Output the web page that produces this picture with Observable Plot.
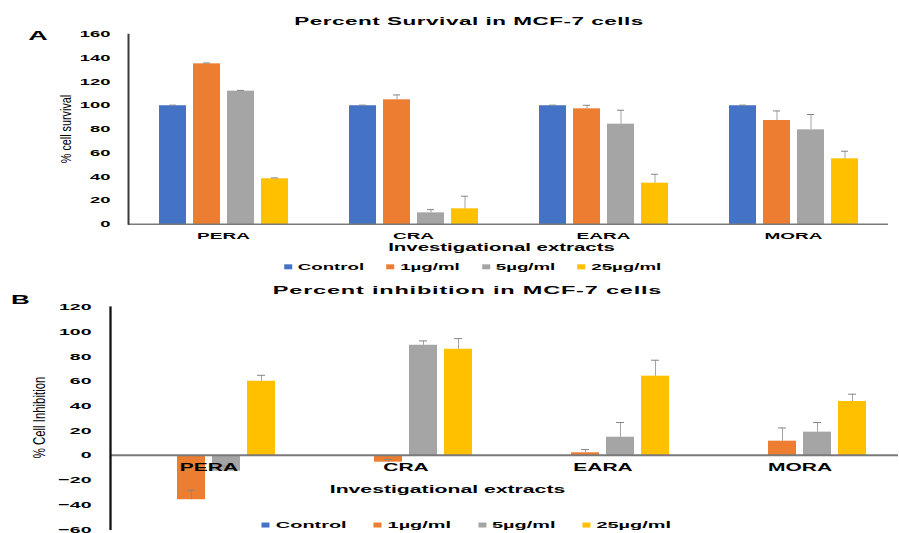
<!DOCTYPE html>
<html>
<head>
<meta charset="utf-8">
<script src="https://cdn.jsdelivr.net/npm/d3@7"></script>
<script src="https://cdn.jsdelivr.net/npm/@observablehq/plot@0.6"></script>
<style>
html,body{margin:0;padding:0;overflow:hidden;background:#fff;width:899px;height:533px;}
#wrap{position:absolute;left:0;top:0;width:899px;height:1066px;transform:scaleY(0.5);transform-origin:0 0;font-family:"Liberation Sans",Arial,sans-serif;color:#000;overflow:hidden;}
.t{position:absolute;white-space:nowrap;line-height:1;transform:translate(-50%,-50%);}
.b{font-weight:bold;}
.legend{position:absolute;display:flex;align-items:center;white-space:nowrap;line-height:1;font-weight:bold;transform:translate(-50%,-50%);}
.legend .item{display:flex;align-items:center;}
.legend .sw{display:inline-block;width:8px;height:10px;margin-right:6px;}
</style>
</head>
<body>
<div id="wrap"></div>
<script>
// ---- data ----
const categories = ["PERA", "CRA", "EARA", "MORA"];
const series = ["Control", "1µg/ml", "5µg/ml", "25µg/ml"];
const colors = ["#4472C4", "#ED7D31", "#A5A5A5", "#FFC000"];

// Panel A: percent survival
const survivalControl = [100, 100, 100, 100];
const survival1 = [135.3, 105, 97.4, 87.6];
const survival5 = [112.3, 9.8, 84.5, 79.7];
const survival25 = [38.5, 13.2, 34.8, 55.3];
const survivalErrControl = [0.3, 0.3, 0.3, 0.3];
const survivalErr1 = [0.5, 3.9, 2.8, 7.8];
const survivalErr5 = [0.4, 2.5, 11.5, 12.7];
const survivalErr25 = [0.5, 10.4, 7.3, 6.2];
const survivalTicks = [0, 20, 40, 60, 80, 100, 120, 140, 160];

// Panel B: percent inhibition
const inhibitionControl = [0, 0, 0, 0];
const inhibition1 = [-35.8, -5.4, 2.2, 11.6];
const inhibition5 = [-12.7, 89.2, 14.8, 18.9];
const inhibition25 = [60.1, 86, 64.2, 43.7];
const inhibitionErrControl = [0, 0, 0, 0];
const inhibitionErr1 = [7.5, 2, 2.4, 10.5];
const inhibitionErr5 = [4, 3.3, 11.7, 7.6];
const inhibitionErr25 = [4.6, 8.4, 12.7, 5.7];
const inhibitionTicks = [-60, -40, -20, 0, 20, 40, 60, 80, 100, 120];

function table(vals, errs) {
  const rows = [];
  series.forEach((s, j) => categories.forEach((c, i) =>
    rows.push({cat: c, series: s, value: vals[j][i], err: errs[j][i]})));
  return rows;
}
const dataA = table([survivalControl, survival1, survival5, survival25],
                    [survivalErrControl, survivalErr1, survivalErr5, survivalErr25]);
const dataB = table([inhibitionControl, inhibition1, inhibition5, inhibition25],
                    [inhibitionErrControl, inhibitionErr1, inhibitionErr5, inhibitionErr25]);

const font = "'Liberation Sans', Arial, sans-serif";
const errColor = "#858585";

const plotA = Plot.plot({
  width: 899, height: 500,
  marginLeft: 128, marginRight: 11, marginTop: 68, marginBottom: 52,
  style: {fontFamily: font, background: "transparent", overflow: "visible"},
  fx: {domain: categories, padding: 0, label: null},
  x: {domain: series, paddingInner: 0.217, paddingOuter: 0.862, axis: null},
  y: {domain: [0, 160], label: null},
  color: {domain: series, range: colors},
  marks: [
    Plot.barY(dataA, {fx: "cat", x: "series", y: "value", fill: "series"}),
    Plot.ruleX(dataA, {fx: "cat", x: "series", y1: "value", y2: d => d.value + d.err, stroke: errColor, strokeWidth: 1}),
    Plot.tickY(dataA, {fx: "cat", x: "series", y: d => d.value + d.err, stroke: errColor, strokeWidth: 2, insetLeft: 10, insetRight: 10}),
    Plot.ruleY([0], {stroke: "#7a7a7a", strokeWidth: 3.4}),
    Plot.frame({anchor: "left", facetAnchor: "left", stroke: "#3a3a3a", strokeWidth: 2}),
    Plot.axisY({ticks: survivalTicks, tickSize: 0, tickPadding: 18, fontSize: 18.4, fontWeight: "bold", fill: "#000", label: null}),
    Plot.axisFx({anchor: "bottom", tickSize: 0, tickPadding: 17, fontSize: 19, fontWeight: "bold", fill: "#000", label: null})
  ]
});

const plotB = Plot.plot({
  width: 899, height: 506,
  marginLeft: 108, marginRight: 0, marginTop: 53.4, marginBottom: 7.7,
  style: {fontFamily: font, background: "transparent", overflow: "visible"},
  fx: {domain: categories, padding: 0, axis: null, label: null},
  x: {domain: series, paddingInner: 0.208, paddingOuter: 0.85, axis: null},
  y: {domain: [-60, 120], label: null},
  color: {domain: series, range: colors},
  marks: [
    Plot.barY(dataB, {fx: "cat", x: "series", y: "value", fill: "series"}),
    Plot.ruleX(dataB.filter(d => d.err > 0), {fx: "cat", x: "series", y1: "value", y2: d => d.value + d.err, stroke: errColor, strokeWidth: 1}),
    Plot.tickY(dataB.filter(d => d.err > 0), {fx: "cat", x: "series", y: d => d.value + d.err, stroke: errColor, strokeWidth: 2, insetLeft: 10, insetRight: 10}),
    Plot.ruleY([0], {stroke: "#7a7a7a", strokeWidth: 4}),
    Plot.frame({anchor: "left", facetAnchor: "left", stroke: "#111", strokeWidth: 2.3}),
    Plot.axisY({ticks: inhibitionTicks, tickSize: 0, tickPadding: 19, fontSize: 19.5, fontWeight: "bold", fill: "#000", label: null}),
    Plot.text(categories, {fx: d => d, y: () => 0, text: d => d, dy: 25, lineAnchor: "middle", fontSize: 21, fontWeight: "bold", fill: "#000"})
  ]
});

const wrap = document.getElementById("wrap");
[[plotA, 0], [plotB, 560]].forEach(([svg, top]) => {
  svg.style.position = "absolute";
  svg.style.left = "0px";
  svg.style.top = top + "px";
  wrap.appendChild(svg);
});

function addText(txt, x, y, size, opts = {}) {
  const d = document.createElement("div");
  d.className = "t" + (opts.bold ? " b" : "");
  d.textContent = txt;
  d.style.left = x + "px";
  d.style.top = y + "px";
  d.style.fontSize = size + "px";
  if (opts.ls) d.style.letterSpacing = opts.ls + "px";
  if (opts.ws) d.style.wordSpacing = opts.ws + "px";
  if (opts.transform) d.style.transform = opts.transform;
  wrap.appendChild(d);
}
function addLegend(x, y, size, gap) {
  const d = document.createElement("div");
  d.className = "legend";
  d.style.left = x + "px";
  d.style.top = y + "px";
  d.style.fontSize = size + "px";
  d.style.gap = gap + "px";
  series.forEach((s, i) => {
    const it = document.createElement("span");
    it.className = "item";
    const sw = document.createElement("span");
    sw.className = "sw";
    sw.style.background = colors[i];
    const tx = document.createElement("span");
    tx.textContent = s;
    it.appendChild(sw); it.appendChild(tx);
    d.appendChild(it);
  });
  wrap.appendChild(d);
}

// Panel A texts
addText("A", 38, 71, 27, {bold: true});
addText("Percent Survival in MCF-7 cells", 469, 43.4, 22.5, {bold: true, ls: 0.5});
addText("Investigational extracts", 501.5, 496, 20.4, {bold: true});
addText("% cell survival", 65, 258, 15, {transform: "translate(-50%,-50%) rotate(-90deg) scaleX(1.44)"});
addLegend(472.5, 534, 18.7, 22);

// Panel B texts
addText("B", 20.5, 598, 26, {bold: true});
addText("Percent inhibition in MCF-7 cells", 467.5, 581, 23.5, {bold: true, ls: 0.8});
addText("Investigational extracts", 447.5, 978, 21.2, {bold: true});
addText("% Cell Inhibition", 39, 835, 17, {transform: "translate(-50%,-50%) rotate(-90deg) scaleX(1.34)"});
addLegend(466.4, 1050, 19.9, 27);
</script>
</body>
</html>
